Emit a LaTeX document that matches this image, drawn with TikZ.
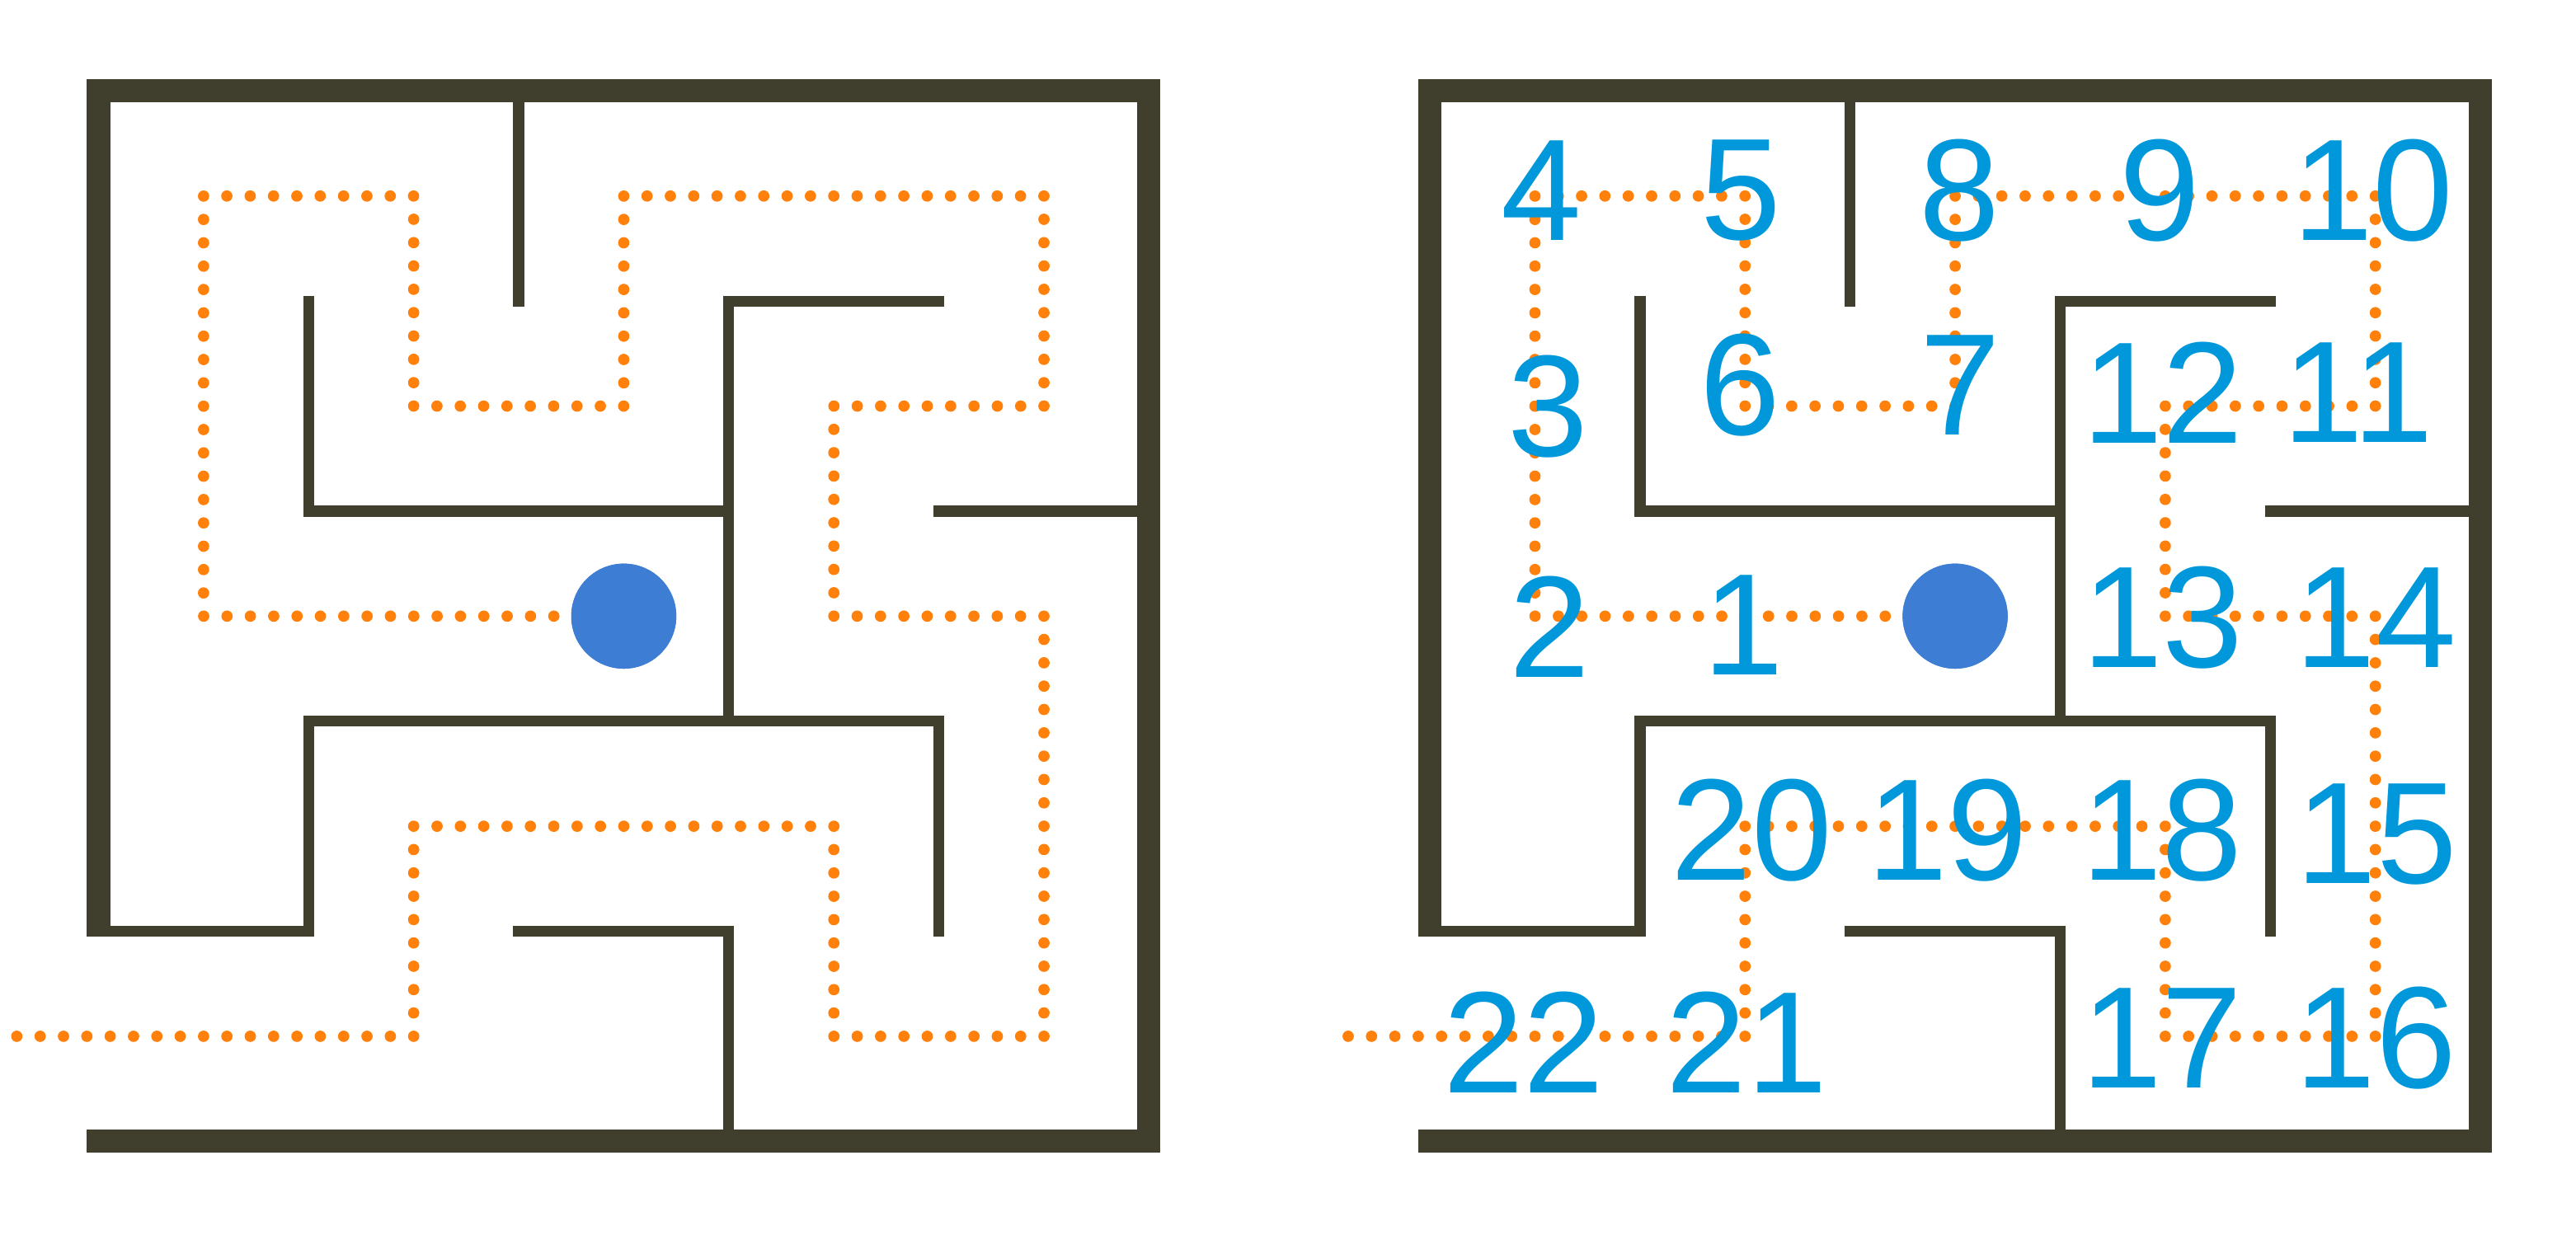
\documentclass[tikz,border=0pt]{standalone}
\usepackage{fontspec}
\setmainfont{Liberation Sans}
\definecolor{wallc}{RGB}{64,62,44}
\definecolor{pathc}{RGB}{255,128,10}
\definecolor{ballc}{RGB}{61,126,212}
\definecolor{labc}{RGB}{0,152,219}
\newcommand\mazewallsdraw{%
  \draw[thickwall] (0,3.971) -- (0,0) -- (5,0) -- (5,5) -- (0,5);
  \draw[thinwall] (2,0) -- (2,1);
  \draw[thinwall] (1,1) -- (1,2) -- (3,2);
  \draw[thinwall] (4,1) -- (3,1) -- (3,3);
  \draw[thinwall] (4,2) -- (5,2);
  \draw[thinwall] (-0.029,4) -- (1,4) -- (1,3) -- (4,3) -- (4,4);
  \draw[thinwall] (2,4) -- (3,4) -- (3,5);
}
\newcommand\mazepathdraw[2]{%
  \node[ball] (#2) at (2.5,2.5) {};
  \draw[dotpath] (#1,4.5) -- (1.5,4.5) -- (1.5,3.5) -- (3.5,3.5) -- (3.5,4.5) -- (4.5,4.5)
    -- (4.5,2.5) -- (3.5,2.5) -- (3.5,1.5) -- (4.5,1.5) -- (4.5,0.5) -- (2.5,0.5)
    -- (2.5,1.5) -- (1.5,1.5) -- (1.5,0.5) -- (0.5,0.5) -- (0.5,2.5) -- (#2);
  \node[ball] at (#2.center) {};
}
\begin{document}
\begin{tikzpicture}[x=1cm,y=-1cm,
  thickwall/.style={draw=wallc,line width=0.11cm,line cap=rect,line join=miter},
  thinwall/.style={draw=wallc,line width=0.052cm,line cap=rect,line join=miter},
  dotpath/.style={draw=pathc,line width=0.054cm,line cap=round,dash pattern=on 0pt off 0.111111cm},
  ball/.style={circle,fill=ballc,minimum size=0.5cm,inner sep=0pt,draw=none},
  lab/.style={text=labc,inner sep=0pt,font=\fontsize{19.6}{21}\selectfont}]
\useasboundingbox (-0.469,-0.433) rectangle (11.792,5.466);
% left maze
\begin{scope}
  \mazewallsdraw
  \mazepathdraw{-0.5}{ballA}
\end{scope}
% right maze
\begin{scope}[xshift=6.337cm]
  \mazewallsdraw
  \mazepathdraw{-0.389}{ballB}
  \node[lab] (l1) at (1.494,2.543) {1};
  \node[lab] (l2) at (0.568,2.551) {2};
  \node[lab] (l3) at (0.562,1.504) {3};
  \node[lab] (l4) at (0.532,0.475) {4};
  \node[lab] (l5) at (1.479,0.475) {5};
  \node[lab] (l6) at (1.477,1.402) {6};
  \node[lab] (l7) at (2.524,1.402) {7};
  \node[lab] (l8) at (2.521,0.475) {8};
  \node[lab] (l9) at (3.474,0.475) {9};
  \node[lab] (l10) at (4.488,0.475) {10};
  \node[lab] (l11) at (4.419,1.437) {11};
  \node[lab] (l12) at (3.488,1.437) {12};
  \node[lab] (l13) at (3.488,2.508) {13};
  \node[lab] (l14) at (4.503,2.508) {14};
  \node[lab] (l15) at (4.507,3.540) {15};
  \node[lab] (l16) at (4.503,4.509) {16};
  \node[lab] (l17) at (3.484,4.509) {17};
  \node[lab] (l18) at (3.484,3.518) {18};
  \node[lab] (l19) at (2.464,3.518) {19};
  \node[lab] (l20) at (1.531,3.518) {20};
  \node[lab] (l21) at (1.507,4.528) {21};
  \node[lab] (l22) at (0.446,4.528) {22};
\end{scope}
\end{tikzpicture}
\end{document}
